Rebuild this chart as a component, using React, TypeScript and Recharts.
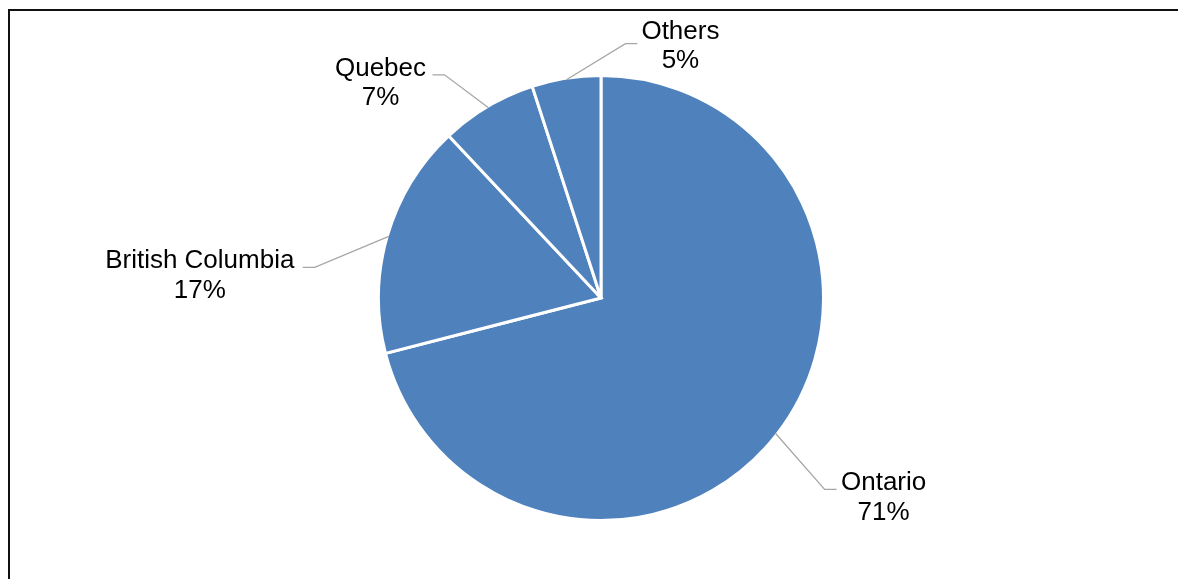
import { PieChart, Pie, Cell } from 'recharts'

const provinces = ['Ontario', 'British Columbia', 'Quebec', 'Others']
const shares = [71, 17, 7, 5]

const chartData = provinces.map((name, i) => ({ name, value: shares[i] }))

// label placement (Excel-style manual positions), offsets from the slice edge point
const labelLayout: Record<string, { line: [number, number]; text: [number, number] }> = {
  Ontario: { line: [61, 56], text: [108, 57] },
  'British Columbia': { line: [-86, 31], text: [-189, 32] },
  Quebec: { line: [-56, -33], text: [-108, -32] },
  Others: { line: [71, -36], text: [114, -41] },
}

const RAD = Math.PI / 180
const FONT = '"Liberation Sans", Arial, sans-serif'

const renderLabel = (props: any) => {
  const { cx, cy, midAngle, outerRadius, name, percent } = props
  const r = outerRadius - 1.5
  const ex = cx + r * Math.cos(-midAngle * RAD)
  const ey = cy + r * Math.sin(-midAngle * RAD)
  const layout = labelLayout[name]
  const lx = ex + layout.line[0]
  const ly = ey + layout.line[1]
  const side = layout.line[0] > 0 ? 1 : -1
  const bx = lx - side * 12
  const tx = ex + layout.text[0]
  const ty = ey + layout.text[1]

  return (
    <g>
      <polyline
        points={`${ex},${ey} ${bx},${ly} ${lx},${ly}`}
        fill="none"
        stroke="#a6a6a6"
        strokeWidth={1.3}
      />
      <text x={tx} y={ty} textAnchor="middle" fontFamily={FONT} fontSize={26} fill="#000">
        <tspan x={tx} dy={0}>{name}</tspan>
        <tspan x={tx} dy={29.5}>{`${Math.round(percent * 100)}%`}</tspan>
      </text>
    </g>
  )
}

export default function App() {
  return (
    <>
      <style>{'html,body{overflow:hidden;background:#fff}'}</style>
      <div
        style={{
          position: 'fixed',
          left: 8,
          top: 9,
          width: 1400,
          height: 800,
          borderTop: '2px solid #111',
          borderLeft: '2px solid #111',
        }}
      />
      <div style={{ position: 'fixed', left: 0, top: 0, width: 1178, height: 579 }}>
        <PieChart width={1178} height={579} margin={{ top: 0, right: 0, bottom: 0, left: 0 }}>
          <Pie
            data={chartData}
            dataKey="value"
            nameKey="name"
            cx={601}
            cy={298}
            outerRadius={222.5}
            startAngle={90}
            endAngle={-270}
            stroke="#fff"
            strokeWidth={3}
            label={renderLabel}
            labelLine={false}
            isAnimationActive={false}
          >
            {chartData.map((d) => (
              <Cell key={d.name} fill="#4f81bd" />
            ))}
          </Pie>
        </PieChart>
      </div>
    </>
  )
}
